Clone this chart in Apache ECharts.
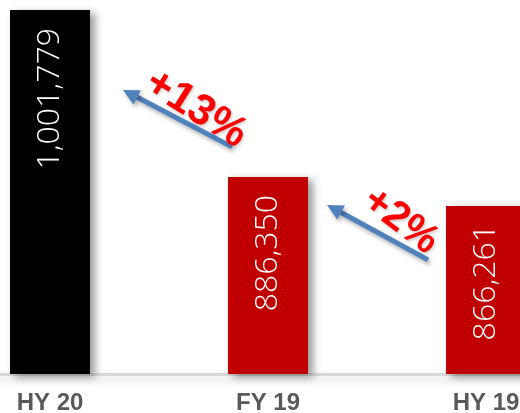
<!DOCTYPE html>
<html>
<head>
<meta charset="utf-8">
<script src="https://cdn.jsdelivr.net/npm/echarts@6/dist/echarts.min.js"></script>
<style>
  html, body { margin: 0; padding: 0; background: #ffffff; }
  #chart { width: 520px; height: 413px; }
</style>
</head>
<body>
<div id="chart"></div>
<script>
// Period labels, reported values and bar colours
const periods = ['HY 20', 'FY 19', 'HY 19'];
const values = [1001779, 886350, 866261];
const barColors = ['#000000', '#c00000', '#c00000'];
// Growth arrows: from the older period (index) to the newer one
const growthPairs = [[1, 0], [2, 1]];

const chart = echarts.init(document.getElementById('chart'));

const fmt = v => v.toLocaleString('en-US');

chart.setOption({
  animation: false,
  backgroundColor: '#ffffff',
  grid: { left: -59, right: -75, top: 10, bottom: 39, outerBoundsMode: 'none', containLabel: false },
  xAxis: {
    type: 'category',
    data: periods,
    axisLine: {
      lineStyle: {
        color: '#d9d9d9', width: 3,
        shadowColor: 'rgba(0,0,0,0.18)', shadowBlur: 8, shadowOffsetY: 4
      }
    },
    axisTick: { show: false },
    axisLabel: {
      color: '#595959', fontSize: 24, fontWeight: 'bold',
      fontFamily: 'Liberation Sans, Arial, sans-serif', margin: 17
    }
  },
  yAxis: {
    type: 'value', min: 750000, max: 'dataMax', show: false,
    splitLine: { show: false }
  },
  series: [{
    type: 'bar',
    barWidth: 80,
    data: values.map((v, i) => ({
      value: v,
      itemStyle: {
        color: barColors[i],
        shadowColor: 'rgba(0,0,0,0.4)', shadowBlur: 8,
        shadowOffsetX: 5, shadowOffsetY: 3
      }
    })),
    label: {
      show: true,
      position: 'insideTop',
      distance: 18,
      rotate: 90,
      align: 'right',
      verticalAlign: 'middle',
      color: '#ffffff',
      fontSize: 32,
      fontWeight: 300,
      fontFamily: 'Open Sans, Lato, sans-serif',
      formatter: p => fmt(p.value)
    }
  }]
});

// Growth annotations: an arrow pointing from the older bar toward the newer one,
// with the percentage change written along it.
function drawGrowth() {
  const px = (i, v) => chart.convertToPixel({ seriesIndex: 0 }, [i, v]);
  const elements = [];
  growthPairs.forEach(([from, to], k) => {
    const pct = Math.round((values[to] / values[from] - 1) * 100);
    const a = px(from, values[from]);
    const b = px(to, values[to]);
    let tail, tip, angle, size, lift, along;
    if (k === 0) {
      tail = [a[0] - 36, a[1] - 30];
      tip = [b[0] + 73, a[1] - 87];
      angle = -32; size = 43; lift = 17; along = 12;
    } else {
      tail = [a[0] - 58, a[1] + 54];
      tip = [b[0] + 59, b[1] + 28];
      angle = -37; size = 41; lift = 21; along = 15;
    }
    const dx = tip[0] - tail[0], dy = tip[1] - tail[1];
    const len = Math.hypot(dx, dy);
    const ux = dx / len, uy = dy / len;
    const headLen = 16, headW = 8;
    const base = [tip[0] - ux * headLen, tip[1] - uy * headLen];
    // text sits above the arrow, nudged toward its tail
    const mid = [(tail[0] + tip[0]) / 2, (tail[1] + tip[1]) / 2];
    const textPos = [mid[0] - uy * lift - ux * along, mid[1] + ux * lift - uy * along];
    const shadow = { shadowColor: 'rgba(0,0,0,0.3)', shadowBlur: 4, shadowOffsetX: 2, shadowOffsetY: 3 };
    elements.push({
      type: 'line',
      shape: { x1: tail[0], y1: tail[1], x2: base[0], y2: base[1] },
      style: Object.assign({ stroke: '#4f81bd', lineWidth: 5 }, shadow),
      z: 10
    });
    elements.push({
      type: 'polygon',
      shape: {
        points: [
          tip,
          [base[0] - uy * headW, base[1] + ux * headW],
          [base[0] + uy * headW, base[1] - ux * headW]
        ]
      },
      style: Object.assign({ fill: '#4f81bd' }, shadow),
      z: 10
    });
    elements.push({
      type: 'text',
      x: textPos[0], y: textPos[1],
      rotation: angle * Math.PI / 180,
      style: {
        text: '+' + pct + '%',
        fill: '#ff0000',
        font: 'bold ' + size + 'px "Liberation Sans", Arial, sans-serif',
        align: 'center', verticalAlign: 'middle',
        textShadowColor: 'rgba(0,0,0,0.2)', textShadowBlur: 3, textShadowOffsetX: 1, textShadowOffsetY: 2
      },
      z: 11
    });
  });
  chart.setOption({ graphic: { elements } });
}
drawGrowth();
</script>
</body>
</html>
